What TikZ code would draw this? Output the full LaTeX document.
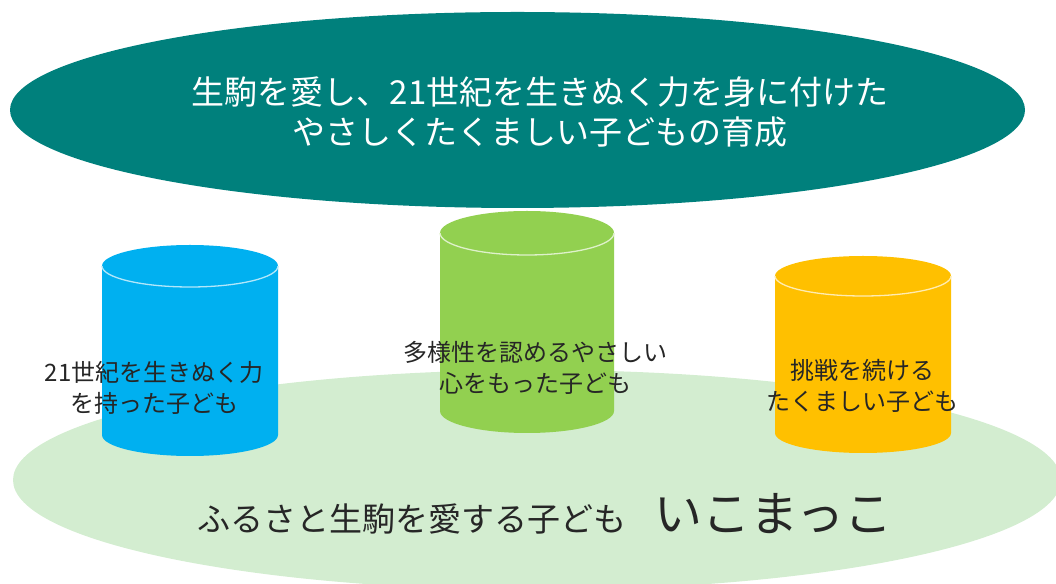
\documentclass[tikz,border=0pt]{standalone}
\usepackage{fontspec}
\setmainfont{Noto Sans CJK JP}
\definecolor{teal1}{HTML}{00807C}
\definecolor{paleg}{HTML}{D3EDD0}
\definecolor{cblue}{HTML}{00B0F0}
\definecolor{cgreen}{HTML}{92D050}
\definecolor{corange}{HTML}{FFC000}
\definecolor{txt}{HTML}{262626}
\tikzset{
  bigtext/.style={font=\fontsize{33}{40}\selectfont, align=center, inner sep=0pt},
  cyltext/.style={font=\fontsize{24}{31}\selectfont, align=center, inner sep=0pt, text=txt},
  hilite/.style={line width=1.3pt},
}
% \cylshape{cx}{top}{bottom}{rx}{ry}{fill}{highlight}
\newcommand{\cylshape}[7]{%
  \fill[#6] (#1-#4,#2) -- (#1-#4,#3)
     arc[start angle=180,end angle=360,x radius=#4,y radius=#5]
     -- (#1+#4,#2)
     arc[start angle=0,end angle=180,x radius=#4,y radius=#5] -- cycle;
  \draw[hilite,#7] (#1-#4,#2)
     arc[start angle=180,end angle=360,x radius=#4,y radius=#5];
}
\begin{document}
\begin{tikzpicture}[x=1pt,y=1pt]
\useasboundingbox (0,0) rectangle (1056,583);
\begin{scope}
\clip (0,0) rectangle (1056,583);
\fill[paleg] (537,103) ellipse [x radius=524, y radius=110];
\end{scope}
\fill[teal1] (517.5,473) ellipse [x radius=507.5, y radius=98];
\cylshape{190}{317}{148}{88}{21}{cblue}{cblue!30!white}
\cylshape{527}{350}{172}{87}{22}{cgreen}{cgreen!30!white}
\cylshape{863}{307}{150}{88}{20}{corange}{corange!30!white}
\node[bigtext, text=white] (goal) at (540,471)
  {生駒を愛し、21世紀を生きぬく力を身に付けた\\やさしくたくましい子どもの育成};
\node[cyltext] (blue) at (154,195) {21世紀を生きぬく力\\を持った子ども};
\node[cyltext] (green) at (535,215) {多様性を認めるやさしい\\心をもった子ども};
\node[cyltext] (orange) at (862,197) {挑戦を続ける\\たくましい子ども};
\node[bigtext, text=txt, anchor=base] (base) at (545,51)
  {ふるさと生駒を愛する子ども\hspace{28pt}{\fontsize{48}{50}\selectfont いこまっこ}};
\end{tikzpicture}
\end{document}
